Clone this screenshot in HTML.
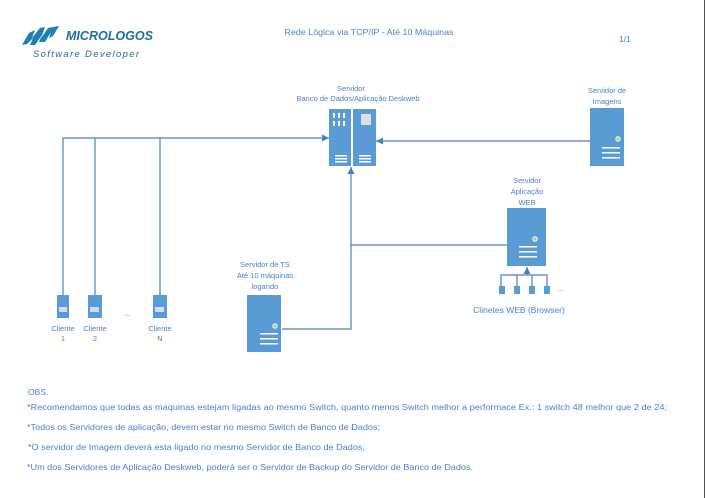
<!DOCTYPE html>
<html><head><meta charset="utf-8"><style>
html,body{margin:0;padding:0;background:#fff;}
svg{display:block;font-family:"Liberation Sans",sans-serif;}
</style></head><body>
<svg width="706" height="498" viewBox="0 0 706 498" xmlns="http://www.w3.org/2000/svg">
<defs><marker id="a" markerWidth="8" markerHeight="8" refX="7" refY="4" orient="auto" markerUnits="userSpaceOnUse"><path d="M0,0.5 L7,4 L0,7.5z" fill="#4a7fbf"/></marker></defs>
<line x1="704.5" y1="0" x2="704.5" y2="498" stroke="#555" stroke-width="1"/>
<!-- logo -->
<g fill="#1f7fb5">
<path d="M22,45 L29,33 L35,30 L32,38 L40,28 L45,27 L41,38 L48,28 L59,26 L53,36 L49,38 L51,32 L45,42 L39,42 L42,35 L35,45 L30,45 L33,38 L27,44z"/>
<text x="66" y="40" font-size="13" font-weight="bold" font-style="italic" fill="#1f6f9e" textLength="87" lengthAdjust="spacingAndGlyphs">MICROLOGOS</text>
<text x="33" y="57" font-size="9.5" font-style="italic" fill="#1f6f9e" textLength="106" lengthAdjust="spacing">Software Developer</text>
</g>
<g fill="#4a7fd0" font-size="8.5" text-anchor="middle">
<text x="369" y="35" textLength="169" lengthAdjust="spacingAndGlyphs">Rede Lógica via TCP/IP - Até 10 Máquinas</text>
<text x="625" y="42">1/1</text>
<g font-size="7.5">
<text x="351" y="91">Servidor</text>
<text x="358" y="101" textLength="123" lengthAdjust="spacingAndGlyphs">Banco de Dados/Aplicação Deskweb</text>
<text x="607" y="93">Servidor de</text>
<text x="607" y="104">Imagens</text>
<text x="527" y="183">Servidor</text>
<text x="527" y="194">Aplicação</text>
<text x="527" y="205">WEB</text>
<text x="265" y="267">Servidor de TS</text>
<text x="265" y="278">Até 10 máquinas</text>
<text x="265" y="289">logando</text>
<text x="63" y="331">Cliente</text><text x="63" y="341">1</text>
<text x="95" y="331">Cliente</text><text x="95" y="341">2</text>
<text x="160" y="331">Cliente</text><text x="160" y="341">N</text>
<text x="127" y="316">...</text>
<text x="560" y="291">...</text>
</g>
<text x="519" y="313" font-size="8.5">Clinetes WEB (Browser)</text>
</g>
<!-- connectors -->
<g stroke="#4a7fbf" stroke-width="1.2" fill="none">
<polyline points="63,295 63,138 329,138" marker-end="url(#a)"/>
<line x1="95" y1="138" x2="95" y2="295"/><line x1="160" y1="138" x2="160" y2="295"/>
<line x1="590" y1="141" x2="376" y2="141" marker-end="url(#a)"/>
<polyline points="282,329 351,329 351,167" marker-end="url(#a)"/>
<line x1="351" y1="245" x2="507" y2="245"/>
<line x1="527" y1="275" x2="527" y2="267" marker-end="url(#a)"/>
<polyline points="501,286 501,275 547,275 547,286"/>
<line x1="517" y1="275" x2="517" y2="286"/><line x1="532" y1="275" x2="532" y2="286"/>
</g>
<!-- servers -->
<g fill="#5b9bd5">
<rect x="329" y="109" width="22" height="57"/><rect x="353" y="109" width="23" height="57"/>
<rect x="590" y="108" width="34" height="58"/>
<rect x="507" y="208" width="39" height="58"/>
<rect x="247" y="295" width="34" height="57"/>
<rect x="57" y="295" width="12" height="23"/><rect x="88" y="295" width="14" height="23"/><rect x="153" y="295" width="14" height="23"/>
<rect x="499" y="286" width="6" height="8"/><rect x="514" y="286" width="6" height="8"/><rect x="529" y="286" width="6" height="8"/><rect x="544" y="286" width="6" height="8"/>
</g>
<g fill="#fff">
<rect x="333" y="113" width="2" height="5"/><rect x="338" y="113" width="2" height="5"/><rect x="343" y="113" width="2" height="5"/>
<rect x="333" y="121" width="2" height="5"/><rect x="338" y="121" width="2" height="5"/><rect x="343" y="121" width="2" height="5"/>
<rect x="361" y="114" width="10" height="11" fill="#dde"/>
<rect x="335" y="155" width="12" height="1.5"/><rect x="335" y="158" width="12" height="1.5"/><rect x="335" y="161" width="12" height="1.5"/>
<rect x="359" y="155" width="12" height="1.5"/><rect x="359" y="158" width="12" height="1.5"/><rect x="359" y="161" width="12" height="1.5"/>
<rect x="602" y="147" width="18" height="1.5"/><rect x="602" y="152" width="18" height="1.5"/><rect x="602" y="157" width="18" height="1.5"/>
<rect x="519" y="246" width="18" height="1.5"/><rect x="519" y="251" width="18" height="1.5"/><rect x="519" y="256" width="18" height="1.5"/>
<rect x="260" y="333" width="18" height="1.5"/><rect x="260" y="338" width="18" height="1.5"/><rect x="260" y="343" width="18" height="1.5"/>
<rect x="59" y="307" width="8" height="5" fill="#cde"/><rect x="90" y="307" width="9" height="5" fill="#cde"/><rect x="155" y="307" width="9" height="5" fill="#cde"/>
</g>
<g fill="#9fd36f" stroke="#fff" stroke-width="1"><circle cx="618" cy="139" r="2.2"/><circle cx="535" cy="239" r="2.2"/><circle cx="275" cy="326" r="2.2"/></g>
<!-- notes -->
<g fill="#4a7fd0" font-size="8.5">
<text x="28" y="395">OBS.</text>
<text x="27" y="410" textLength="640" lengthAdjust="spacingAndGlyphs">*Recomendamos que todas as maquinas estejam ligadas ao mesmo Switch, quanto menos Switch melhor a performace Ex.: 1 switch 48 melhor que 2 de 24;</text>
<text x="27" y="430" textLength="353" lengthAdjust="spacingAndGlyphs">*Todos os Servidores de aplicação, devem estar no mesmo Switch de Banco de Dados;</text>
<text x="28" y="450" textLength="337" lengthAdjust="spacingAndGlyphs">*O servidor de Imagem deverá esta ligado no mesmo Servidor de Banco de Dados;</text>
<text x="27" y="470" textLength="446" lengthAdjust="spacingAndGlyphs">*Um  dos Servidores de Aplicação Deskweb, poderá ser o Servidor de Backup do Servidor de Banco de Dados.</text>
</g>
</svg>
</body></html>
